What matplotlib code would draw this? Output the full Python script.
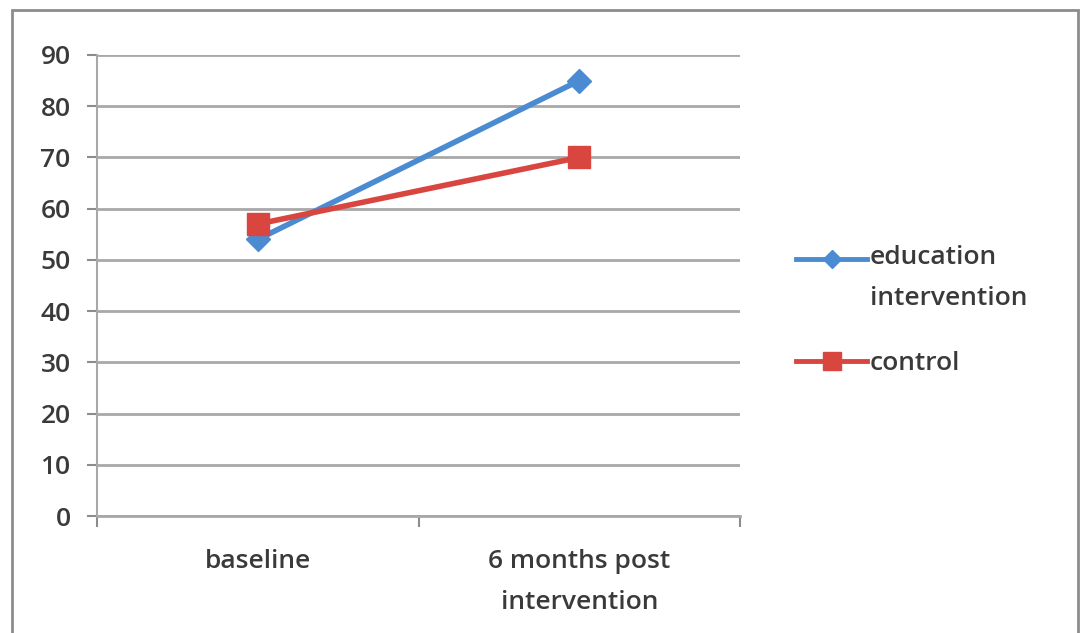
"""Recreate the education intervention vs control line chart."""
import matplotlib
matplotlib.use("Agg")
import matplotlib.pyplot as plt
from matplotlib.patches import Rectangle
from matplotlib.legend_handler import HandlerLine2D

categories = ["baseline", "6 months post\nintervention"]
education = [54, 85]
control = [57, 70]
yticks = [0, 10, 20, 30, 40, 50, 60, 70, 80, 90]

W, H = 1083, 633
FS = 19
TXT = "#3a3a3a"
plt.rcParams["font.family"] = ["Open Sans", "DejaVu Sans"]
plt.rcParams["font.weight"] = "semibold"
fig = plt.figure(figsize=(W / 100, H / 100), dpi=100)


class RaisedLine(HandlerLine2D):
    """legend handle drawn level with the first line of a two-line label"""
    def __init__(self, raise_pts, **kw):
        super().__init__(**kw)
        self.raise_pts = raise_pts

    def create_artists(self, legend, orig_handle, xdescent, ydescent,
                       width, height, fontsize, trans):
        return super().create_artists(legend, orig_handle, xdescent,
                                      ydescent - 2 * self.raise_pts,
                                      width, height, fontsize, trans)


# outer chart frame
fig.patches.append(Rectangle((12 / W, -0.01), 1066 / W, 1 - 10 / H + 0.01,
                             transform=fig.transFigure, fill=False,
                             ec="#8c8c8c", lw=2))

ax = fig.add_axes([97 / W, 1 - 516 / H, 643 / W, 461 / H])
xs = [i + 0.5 for i in range(len(categories))]

l_edu, = ax.plot(xs, education, color="#4a8bd2", lw=4, marker="D", ms=12,
                 label="education\nintervention", zorder=3)
l_ctl, = ax.plot(xs, control, color="#d9453f", lw=4, marker="s", ms=16,
                 label="control", zorder=4)

ax.set_xlim(0, len(categories))
ax.set_ylim(0, 90)
ax.set_yticks(yticks)
ax.set_xticks(xs)
ax.set_xticklabels(categories, fontsize=FS, color=TXT, linespacing=1.85)
ax.set_xticks(range(len(categories) + 1), minor=True)
ax.tick_params(axis="x", which="major", length=0, pad=24)
ax.tick_params(axis="x", which="minor", length=8, width=1.5, color="#8c8c8c", direction="out")
ax.tick_params(axis="y", length=7, width=1.5, color="#8c8c8c", labelsize=FS,
               labelcolor=TXT, pad=12)
ax.grid(axis="y", color="#a8a8a8", lw=2)
ax.set_axisbelow(True)
for s in ["top", "right"]:
    ax.spines[s].set_visible(False)
ax.spines["left"].set_color("#a8a8a8")
ax.spines["left"].set_linewidth(1.5)
ax.spines["bottom"].set_color("#a8a8a8")
ax.spines["bottom"].set_linewidth(2)

leg = fig.legend(handles=[l_edu, l_ctl], loc="upper left",
                 bbox_to_anchor=(783 / W, 1 - 232 / H), frameon=False,
                 fontsize=FS, handlelength=2.7, handletextpad=0.1,
                 borderpad=0, labelspacing=1.52, labelcolor=TXT,
                 handler_map={l_edu: RaisedLine(14.4)})
for t in leg.get_texts():
    t.set_linespacing(1.85)
# legend markers are a bit smaller than the plotted ones
for h, ms in zip(leg.legend_handles, [9, 13]):
    h.set_markersize(ms)
    h.set_linewidth(3.5)

fig.savefig("out.png", dpi=100)
